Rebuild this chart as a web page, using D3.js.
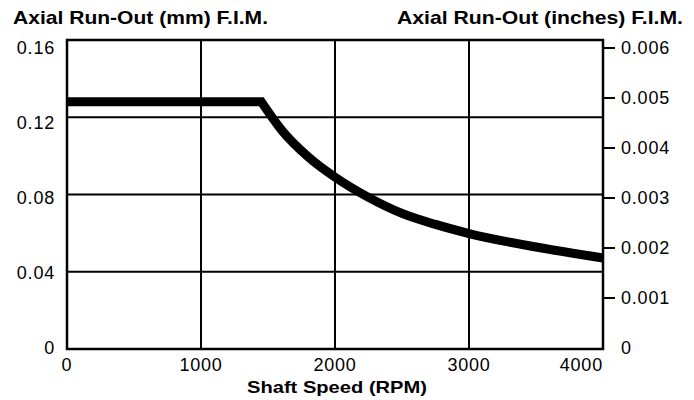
<!DOCTYPE html>
<html>
<head>
<meta charset="utf-8">
<script src="https://cdn.jsdelivr.net/npm/d3@7"></script>
<style>
  body { margin: 0; background: #fff; }
  svg { display: block; font-family: "Liberation Sans", Arial, Helvetica, sans-serif; }
</style>
</head>
<body>
<svg id="chart" width="694" height="400"></svg>
<script>
// shaft speed (RPM) vs allowable axial run-out (mm)
const rpm    = [0, 1450, 1600, 1800, 2000, 2250, 2500, 2750, 3000, 3500, 4000];
const runout = [0.128, 0.128, 0.1135, 0.0995, 0.089, 0.0785, 0.0702, 0.0645, 0.0598, 0.0528, 0.0471];

const xTicks = [0, 1000, 2000, 3000, 4000];
const yTicks = [0, 0.04, 0.08, 0.12, 0.16];
const inchTicks = [0, 0.001, 0.002, 0.003, 0.004, 0.005, 0.006];

const mLeft = 67, mRight = 603, mTop = 40, mBottom = 349;

const svg = d3.select("#chart");

const x = d3.scaleLinear().domain([0, 4000]).range([mLeft, mRight]);
const y = d3.scaleLinear().domain([0, 0.16]).range([mBottom, mTop]);
// tick labels sit on a slightly compressed scale in the original
const yLab = d3.scaleLinear().domain([0, 0.16]).range([348, 48]);
const yIn = d3.scaleLinear().domain([0, 0.006]).range([348, 48]);

// grid
svg.append("g")
  .selectAll("line")
  .data(yTicks.filter(d => d > 0 && d < 0.16))
  .join("line")
  .attr("x1", mLeft).attr("x2", mRight)
  .attr("y1", d => y(d)).attr("y2", d => y(d))
  .attr("stroke", "#000").attr("stroke-width", 2);

svg.append("g")
  .selectAll("line")
  .data(xTicks.filter(d => d > 0 && d < 4000))
  .join("line")
  .attr("y1", mTop).attr("y2", mBottom)
  .attr("x1", d => x(d)).attr("x2", d => x(d))
  .attr("stroke", "#000").attr("stroke-width", 2);

// curve: flat up to the corner, then a smooth decay
const pts = rpm.map((r, i) => [r, runout[i]]);
const flat = d3.line().x(d => x(d[0])).y(d => y(d[1]));
const decay = d3.line().x(d => x(d[0])).y(d => y(d[1])).curve(d3.curveMonotoneX);
const pathD = flat(pts.slice(0, 2)) + decay(pts.slice(1)).replace(/^M[^C]*/, "");

svg.append("path")
  .attr("d", pathD)
  .attr("fill", "none")
  .attr("stroke", "#000")
  .attr("stroke-linejoin", "miter")
  .attr("stroke-width", 9);

// frame
svg.append("rect")
  .attr("x", mLeft).attr("y", mTop)
  .attr("width", mRight - mLeft).attr("height", mBottom - mTop)
  .attr("fill", "none")
  .attr("stroke", "#000")
  .attr("stroke-width", 2.5);

// left axis labels
svg.append("g")
  .attr("font-size", 18)
  .attr("letter-spacing", 0.8)
  .attr("text-anchor", "end")
  .selectAll("text")
  .data(yTicks)
  .join("text")
  .attr("x", 55)
  .attr("y", d => yLab(d))
  .attr("dy", "0.36em")
  .text(d => d === 0 ? "0" : d3.format(".2f")(d));

// right axis
const rAxis = svg.append("g");
rAxis.selectAll("line")
  .data(inchTicks.filter(d => d > 0))
  .join("line")
  .attr("x1", mRight).attr("x2", mRight + 12)
  .attr("y1", d => yIn(d)).attr("y2", d => yIn(d))
  .attr("stroke", "#000").attr("stroke-width", 2);
rAxis.append("g")
  .attr("font-size", 18)
  .attr("letter-spacing", 0.8)
  .selectAll("text")
  .data(inchTicks)
  .join("text")
  .attr("x", 621)
  .attr("y", d => yIn(d))
  .attr("dy", "0.36em")
  .text(d => d === 0 ? "0" : d3.format(".3f")(d));

// bottom labels
svg.append("g")
  .attr("font-size", 18)
  .attr("letter-spacing", 0.8)
  .selectAll("text")
  .data(xTicks)
  .join("text")
  .attr("x", d => x(d))
  .attr("y", 371)
  .attr("text-anchor", d => d === 4000 ? "end" : "middle")
  .text(d => d);

// titles
svg.append("text")
  .attr("x", 13).attr("y", 24)
  .attr("font-size", 18.5).attr("font-weight", "bold")
  .attr("textLength", 255).attr("lengthAdjust", "spacingAndGlyphs")
  .text("Axial Run-Out (mm) F.I.M.");

svg.append("text")
  .attr("x", 397).attr("y", 24)
  .attr("font-size", 18.5).attr("font-weight", "bold")
  .attr("textLength", 286).attr("lengthAdjust", "spacingAndGlyphs")
  .text("Axial Run-Out (inches) F.I.M.");

svg.append("text")
  .attr("x", 247).attr("y", 393)
  .attr("font-size", 16.5).attr("font-weight", "bold")
  .attr("textLength", 180).attr("lengthAdjust", "spacingAndGlyphs")
  .text("Shaft Speed (RPM)");
</script>
</body>
</html>
